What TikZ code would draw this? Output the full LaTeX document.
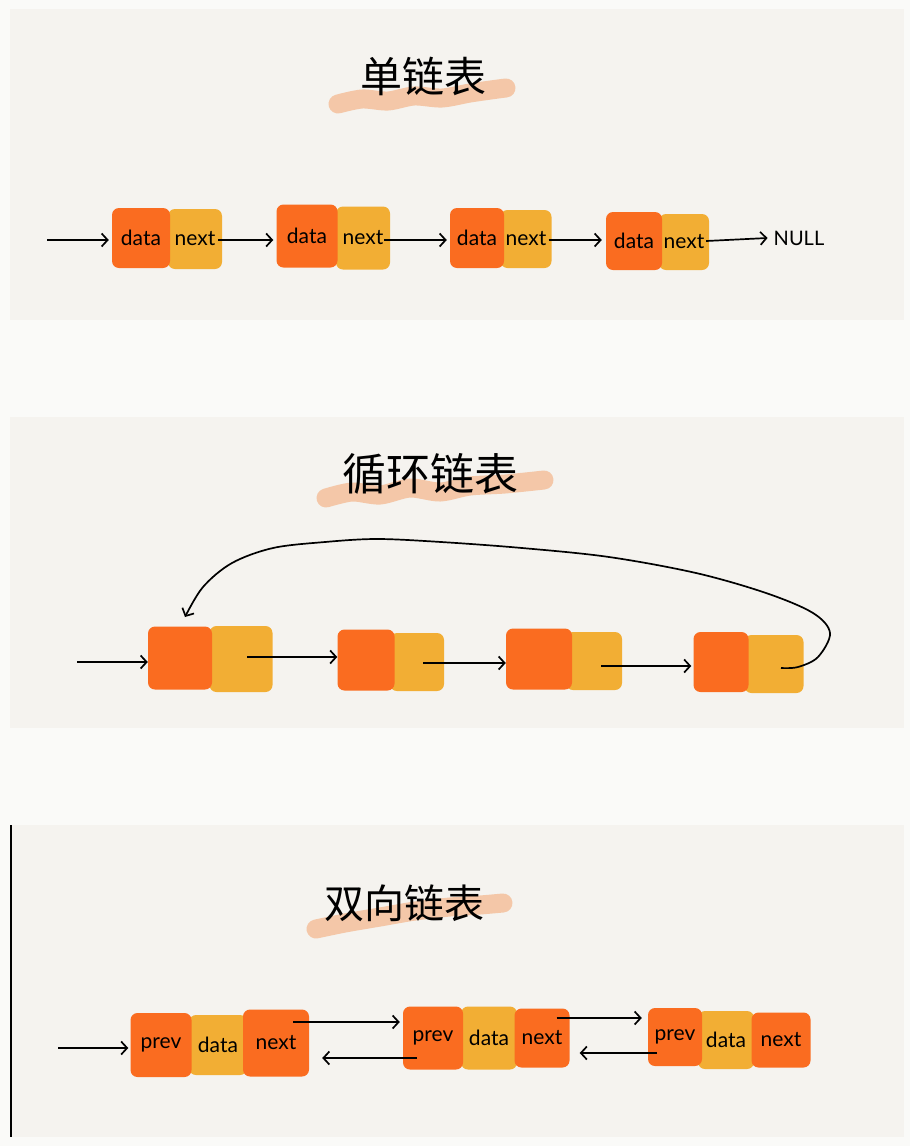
\documentclass[tikz,border=0pt]{standalone}
\usepackage{fontspec}
\setmainfont{Lato}
\newfontfamily\cjk{Noto Sans CJK SC}
\usetikzlibrary{arrows.meta}
\definecolor{paper}{RGB}{250,250,248}
\definecolor{panel}{RGB}{245,243,239}
\definecolor{orng}{RGB}{250,108,32}
\definecolor{yell}{RGB}{242,174,52}
\definecolor{brushc}{RGB}{244,176,130}
\tikzset{
  box/.style={rectangle, rounded corners=7pt, inner sep=0pt, font=\fontsize{21}{21}\selectfont, text=black},
  obox/.style={box, fill=orng},
  ybox/.style={box, fill=yell},
  arr/.style={draw=black, line width=1.7pt, -{Straight Barb[length=6pt,width=13pt]}},
  brush/.style={line width=19pt, line cap=round, draw=brushc, opacity=0.65},
  ttl/.style={font=\cjk\fontsize{42}{42}\selectfont, text=black, inner sep=0pt},
}
\begin{document}
\begin{tikzpicture}[x=1pt,y=-1pt]
\useasboundingbox (0,0) rectangle (910,1146);
\fill[paper] (0,0) rectangle (910,1146);
% panels
\fill[panel] (10,9) rectangle (904,320);
\fill[panel] (10,417) rectangle (904,728);
\fill[panel] (12,825) rectangle (904,1137);
\draw[line width=2.5pt, black] (11,825) -- (11,1137);

% ---------------- panel 1 ----------------
\draw[brush] plot[smooth] coordinates {(338,104) (362,99) (388,101) (414,96) (442,98) (470,93) (498,89) (506,88)};
\node[ttl] (t1) at (423,76) {单链表};

\node[ybox, minimum width=54pt, minimum height=60pt] (n1) at (195,239) {next};
\node[obox, minimum width=58pt, minimum height=60pt] (d1) at (141,238) {data};
\node[ybox, minimum width=54pt, minimum height=63pt] (n2) at (363,238) {next};
\node[obox, minimum width=61pt, minimum height=63pt] (d2) at (307,236) {data};
\node[ybox, minimum width=51pt, minimum height=58pt] (n3) at (526,239) {next};
\node[obox, minimum width=54pt, minimum height=60pt] (d3) at (477,238) {data};
\node[ybox, minimum width=50pt, minimum height=56pt] (n4) at (684,242) {next};
\node[obox, minimum width=56pt, minimum height=58pt] (d4) at (634,241) {data};
\node[inner sep=0pt, font=\fontsize{20}{20}\selectfont] (null) at (799,238) {NULL};
\coordinate (in1) at (47,240);

\draw[arr] (in1) -- ([xshift=-3pt]d1.west |- in1);
\draw[arr] ([xshift=-4pt]n1.east |- in1) -- ([xshift=-3pt]d2.west |- in1);
\draw[arr] ([xshift=-6pt]n2.east |- in1) -- ([xshift=-3pt]d3.west |- in1);
\draw[arr] ([xshift=-3pt]n3.east |- in1) -- ([xshift=-4pt]d4.west |- in1);
\draw[arr] ([xshift=-3pt]n4.east |- 0,241) -- ([xshift=-6pt]null.west |- 0,238);

% ---------------- panel 2 ----------------
\draw[brush] plot[smooth] coordinates {(326,498) (352,492) (380,495) (410,488) (440,492) (470,486) (505,484) (544,480)};
\node[ttl, font=\cjk\fontsize{44}{44}\selectfont] (t2) at (430,474) {循环链表};

\node[ybox, minimum width=63pt, minimum height=66pt] (N1) at (241,659) {};
\node[obox, minimum width=64pt, minimum height=63pt] (D1) at (180,658) {};
\node[ybox, minimum width=54pt, minimum height=58pt] (N2) at (417,662) {};
\node[obox, minimum width=57pt, minimum height=61pt] (D2) at (366,660) {};
\node[ybox, minimum width=56pt, minimum height=58pt] (N3) at (594,661) {};
\node[obox, minimum width=66pt, minimum height=61pt] (D3) at (539,659) {};
\node[ybox, minimum width=59pt, minimum height=58pt] (N4) at (774,664) {};
\node[obox, minimum width=55pt, minimum height=60pt] (D4) at (721,662) {};
\coordinate (in2) at (77,662);
\coordinate (ls) at ([xshift=7pt]N4.center |- 0,668);
\coordinate (le) at (185,617);

\draw[arr] (in2) -- (D1.west |- in2);
\draw[arr] ([xshift=6pt]N1.center |- 0,657) -- (D2.west |- 0,657);
\draw[arr] ([xshift=6pt]N2.center |- 0,663) -- (D3.west |- 0,663);
\draw[arr] ([xshift=7pt]N3.center |- 0,666) -- ([xshift=-2pt]D4.west |- 0,666);
\draw[arr] plot[smooth, tension=0.55] coordinates {(ls) (798,667) (818,657) (830,633) (813,613) (766,593) (696,573) (609,557) (522,548) (441,542) (377,539) (325,542) (273,548) (232,563) (203,587) (le)};

% ---------------- panel 3 ----------------
\draw[brush] plot[smooth] coordinates {(316,929) (345,923) (380,917) (415,911) (450,907) (480,905) (503,903)};
\node[ttl, font=\cjk\fontsize{40}{40}\selectfont] (t3) at (404,903) {双向链表};

\node[ybox, minimum width=58pt, minimum height=60pt] (A1) at (218,1045) {data};
\node[obox, minimum width=61pt, minimum height=64pt] (P1) at (161,1045) {prev};
\node[obox, minimum width=66pt, minimum height=67pt] (X1) at (276,1043) {next};
\node[ybox, minimum width=56pt, minimum height=63pt] (A2) at (489,1038) {data};
\node[obox, minimum width=60pt, minimum height=63pt] (P2) at (433,1038) {prev};
\node[obox, minimum width=55pt, minimum height=59pt] (X2) at (542,1038) {next};
\node[ybox, minimum width=56pt, minimum height=58pt] (A3) at (726,1040) {data};
\node[obox, minimum width=54pt, minimum height=58pt] (P3) at (675,1037) {prev};
\node[obox, minimum width=59pt, minimum height=55pt] (X3) at (781,1040) {next};
\coordinate (in3) at (58,1048);

\draw[arr] (in3) -- ([xshift=-2pt]P1.west |- in3);
\draw[arr] ([xshift=-16pt]X1.east |- 0,1022) -- ([xshift=-3pt]P2.west |- 0,1022);
\draw[arr] ([xshift=-16pt]P2.center |- 0,1058) -- ([xshift=13pt]X1.east |- 0,1058);
\draw[arr] ([xshift=-13pt]X2.east |- 0,1018) -- ([xshift=-6pt]P3.west |- 0,1018);
\draw[arr] ([xshift=-18pt]P3.center |- 0,1053) -- ([xshift=10pt]X2.east |- 0,1053);
\end{tikzpicture}
\end{document}
